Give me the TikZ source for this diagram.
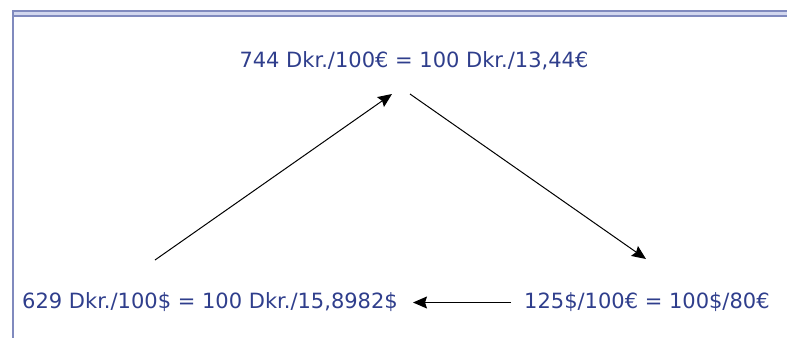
\documentclass[tikz,border=0pt]{standalone}
\usepackage{fontspec}
\setmainfont{DejaVu Sans}
\usetikzlibrary{arrows.meta}
\definecolor{rateblue}{RGB}{47,62,140}
\definecolor{framedark}{RGB}{128,138,190}
\definecolor{framelight}{RGB}{210,215,238}
\tikzset{
  rate/.style={text=rateblue, font=\fontsize{21}{25}\selectfont, inner sep=0pt},
  conv/.style={line width=1pt, -{Stealth[length=14pt,width=12pt,inset=2pt]}},
}

\begin{document}
\begin{tikzpicture}[x=1pt,y=-1pt]
\useasboundingbox (0,0) rectangle (787,338);

% frame
\fill[framelight] (12,10) rectangle (787,16.5);
\draw[framedark, line width=1.5pt] (12,10.8) -- (787,10.8);
\draw[framedark, line width=1.5pt] (12,16) -- (787,16);
\draw[framedark, line width=2pt] (13,10) -- (13,338);

% exchange rates
\node[rate] (eurdkk) at (414,61) {744 Dkr./100€ = 100 Dkr./13,44€};
\node[rate, anchor=west] (usddkk) at (22,302) {629 Dkr./100\$ = 100 Dkr./15,8982\$};
\node[rate, anchor=west] (eurusd) at (524,302) {125\$/100€ = 100\$/80€};

% arrow ends
\coordinate (a1) at (155,260);
\coordinate (a2) at (392,94);
\coordinate (b1) at (410,94);
\coordinate (b2) at (646,259);
\coordinate (c1) at (511,302.5);
\coordinate (c2) at (413,302.5);

\draw[conv] (a1) -- (a2);
\draw[conv] (b1) -- (b2);
\draw[conv] (c1) -- (c2);

\end{tikzpicture}
\end{document}
